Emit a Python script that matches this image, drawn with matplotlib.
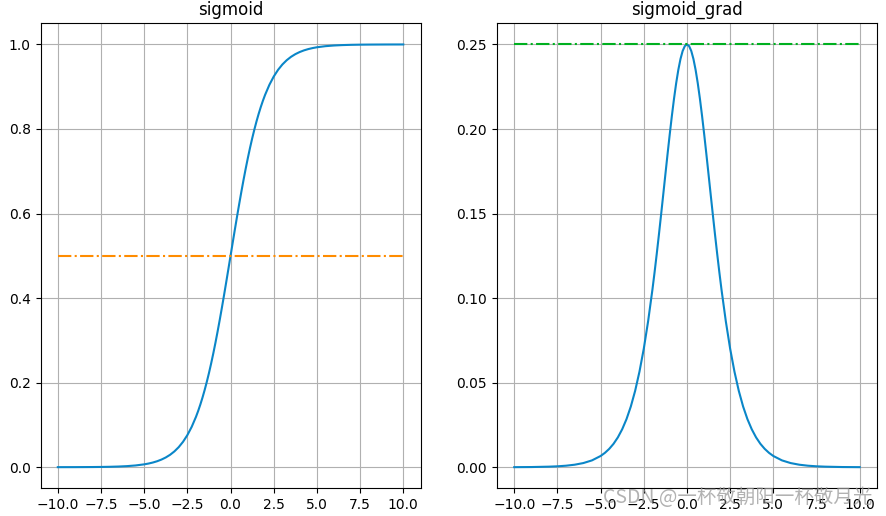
import matplotlib
matplotlib.use("Agg")
import matplotlib.pyplot as plt

# positive half of x (negative half mirrors it)
x_pos = [0.125, 0.25, 0.375, 0.5, 0.625, 0.75, 0.875, 1, 1.125, 1.25, 1.375, 1.5,
         1.625, 1.75, 1.875, 2, 2.25, 2.5, 2.75, 3, 3.25, 3.5, 3.75, 4, 4.25, 4.5,
         4.75, 5, 5.5, 6, 6.5, 7, 7.5, 8, 9, 10]
sig_pos = [0.53121, 0.56218, 0.59267, 0.62246, 0.65135, 0.67918, 0.70578, 0.73106,
           0.75492, 0.77730, 0.79819, 0.81757, 0.83548, 0.85195, 0.86704, 0.88080,
           0.90465, 0.92414, 0.93991, 0.95257, 0.96267, 0.97069, 0.97702, 0.98201,
           0.98594, 0.98901, 0.99142, 0.99331, 0.99593, 0.99753, 0.99850, 0.99909,
           0.99945, 0.99966, 0.99988, 0.99995]
grad_pos = [0.24903, 0.24613, 0.24141, 0.23500, 0.22709, 0.21789, 0.20766, 0.19661,
            0.18502, 0.17310, 0.16108, 0.14915, 0.13745, 0.12614, 0.11528, 0.10499,
            0.08625, 0.07007, 0.05650, 0.04518, 0.03592, 0.02845, 0.02246, 0.01766,
            0.01386, 0.01087, 0.00851, 0.00665, 0.00405, 0.00247, 0.00150, 0.00091,
            0.00055, 0.00034, 0.00012, 0.00005]
sig_mid = 0.5
grad_mid = 0.25

x = [-v for v in reversed(x_pos)] + [0] + x_pos
sig = [round(1 - v, 5) for v in reversed(sig_pos)] + [sig_mid] + sig_pos
grad = list(reversed(grad_pos)) + [grad_mid] + grad_pos

ref_x = [-10, 10]
sig_ref = [0.5, 0.5]
grad_ref = [0.25, 0.25]

titles = ["sigmoid", "sigmoid_grad"]
watermark = "CSDN @一杯敬朝阳一杯敬月光"

fig, axes = plt.subplots(1, 2, figsize=(8.87, 5.16), dpi=100)
fig.subplots_adjust(left=0.0457, right=0.9887, top=0.9548, bottom=0.0537, wspace=0.201)

blue = "#0a86c8"
ax = axes[0]
ax.plot(x, sig, color=blue, lw=1.5)
ax.plot(ref_x, sig_ref, color="#ff8c00", lw=1.5, ls="-.")
ax.set_title(titles[0])
ax.grid(True, color="#b0b0b0")

ax = axes[1]
ax.plot(x, grad, color=blue, lw=1.5)
ax.plot(ref_x, grad_ref, color="#00b020", lw=1.5, ls="-.")
ax.set_title(titles[1])
ax.grid(True, color="#b0b0b0")

fig.text(0.983, 0.036, watermark, ha="right", va="center", fontsize=14,
         color="#999999", alpha=0.75,
         family=["Noto Sans CJK SC", "DejaVu Sans"])

fig.savefig("out.png", dpi=100)
